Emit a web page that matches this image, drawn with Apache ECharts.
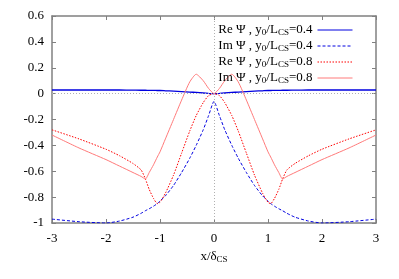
<!DOCTYPE html>
<html>
<head>
<meta charset="utf-8">
<script src="https://cdn.jsdelivr.net/npm/echarts@6/dist/echarts.min.js"></script>
<style>
html,body{margin:0;padding:0;background:#fff;}
#c{width:399px;height:279px;}
</style>
</head>
<body>
<div id="c"></div>
<script>
// x positions (x / delta_CS)
var xs = [-3, -2.5, -2, -1.75, -1.5, -1.35, -1.27, -1.2, -1.12, -1.05, -1.0, -0.9, -0.75, -0.6, -0.45, -0.33, -0.2, -0.1, 0,
          0.1, 0.2, 0.33, 0.45, 0.6, 0.75, 0.9, 1.0, 1.05, 1.12, 1.2, 1.27, 1.35, 1.5, 1.75, 2, 2.5, 3];
// Re Psi, y0/L_CS = 0.4
var reW04 = [0.028, 0.028, 0.028, 0.028, 0.027, 0.026, 0.026, 0.025, 0.025, 0.024, 0.024, 0.022, 0.019, 0.016, 0.012, 0.009, 0.005, 0.002, 0.0,
             0.002, 0.005, 0.009, 0.012, 0.016, 0.019, 0.022, 0.024, 0.024, 0.025, 0.025, 0.026, 0.026, 0.027, 0.028, 0.028, 0.028, 0.028];
// Im Psi, y0/L_CS = 0.4
var imW04 = [-0.97, -0.99, -1.0, -0.985, -0.955, -0.925, -0.905, -0.89, -0.87, -0.85, -0.83, -0.79, -0.71, -0.61, -0.5, -0.4, -0.28, -0.17, -0.06,
             -0.17, -0.28, -0.4, -0.5, -0.61, -0.71, -0.79, -0.83, -0.85, -0.87, -0.89, -0.905, -0.925, -0.955, -0.985, -1.0, -0.99, -0.97];
// Re Psi, y0/L_CS = 0.8
var reW08 = [-0.28, -0.35, -0.43, -0.48, -0.54, -0.59, -0.66, -0.74, -0.81, -0.85, -0.84, -0.77, -0.63, -0.46, -0.29, -0.17, -0.07, -0.015, 0.0,
             -0.015, -0.07, -0.17, -0.29, -0.46, -0.63, -0.77, -0.84, -0.85, -0.81, -0.74, -0.66, -0.59, -0.54, -0.48, -0.43, -0.35, -0.28];
// Im Psi, y0/L_CS = 0.8
var imW08 = [-0.32, -0.42, -0.51, -0.56, -0.61, -0.64, -0.66, -0.61, -0.55, -0.49, -0.45, -0.35, -0.2, -0.05, 0.09, 0.15, 0.1, 0.04, 0.0,
             0.04, 0.1, 0.15, 0.09, -0.05, -0.2, -0.35, -0.45, -0.49, -0.55, -0.61, -0.66, -0.64, -0.61, -0.56, -0.51, -0.42, -0.32];

var seriesNames = ['re04', 'im04', 're08', 'im08'];
var legendLabels = {
  re04: '{n|Re Ψ , y}{s|0}{n|/L}{s|CS}{n|=0.4}',
  im04: '{n|Im Ψ , y}{s|0}{n|/L}{s|CS}{n|=0.4}',
  re08: '{n|Re Ψ , y}{s|0}{n|/L}{s|CS}{n|=0.8}',
  im08: '{n|Im Ψ , y}{s|0}{n|/L}{s|CS}{n|=0.8}'
};
var xTicks = {min: -3, max: 3, interval: 1};
var yTicks = {min: -1, max: 0.6, interval: 0.2};

function pairs(ys) { return xs.map(function (x, i) { return [x, ys[i]]; }); }

var serif = 'Liberation Serif';
var frame = '#808080';
var richStyle = {
  n: {fontFamily: serif, fontSize: 13, color: '#000', lineHeight: 14, padding: [0, 0, 2, 0], verticalAlign: 'top'},
  s: {fontFamily: serif, fontSize: 9, color: '#000', lineHeight: 9, verticalAlign: 'bottom'}
};

function mkSeries(name, ys, color, type, w) {
  return {
    name: name, type: 'line', data: pairs(ys), symbol: 'none', smooth: 0.2,
    lineStyle: {color: color, width: w || 1, type: type}, itemStyle: {color: color},
    xAxisIndex: 0, yAxisIndex: 0, animation: false
  };
}

var s0 = mkSeries('re04', reW04, '#0000e0', 'solid', 1.3);
s0.markLine = {
  silent: true, symbol: ['none', 'none'], label: {show: false},
  lineStyle: {color: '#b0b0b0', width: 1, type: [1, 2]},
  data: [{xAxis: 0}, {yAxis: 0}], animation: false
};
s0.z = 1;

var chart = echarts.init(document.getElementById('c'), null, {renderer: 'canvas'});
chart.setOption({
  backgroundColor: '#fff',
  animation: false,
  grid: {left: 52, right: 23, top: 16, bottom: 56},
  legend: {
    orient: 'vertical', right: 41, top: 18, align: 'right',
    itemWidth: 35, itemHeight: 13, itemGap: 1,
    data: seriesNames,
    itemStyle: {opacity: 0},
    lineStyle: {width: 1},
    formatter: function (n) { return legendLabels[n]; },
    textStyle: {rich: richStyle}
  },
  xAxis: [{
    type: 'value', min: xTicks.min, max: xTicks.max, interval: xTicks.interval,
    axisLine: {show: true, onZero: false, lineStyle: {color: frame, width: 1.5}},
    axisTick: {show: true, inside: true, length: 4, lineStyle: {color: frame}},
    splitLine: {show: false},
    axisLabel: {fontFamily: serif, fontSize: 13, color: '#000', margin: 9},
    name: '{n|x/δ}{s|CS}', nameLocation: 'middle', nameGap: 27,
    nameTextStyle: {rich: richStyle}
  }, {
    type: 'value', position: 'top', min: xTicks.min, max: xTicks.max, interval: xTicks.interval,
    axisLine: {show: true, onZero: false, lineStyle: {color: frame, width: 1.5}},
    axisTick: {show: true, inside: true, length: 4, lineStyle: {color: frame}},
    splitLine: {show: false}, axisLabel: {show: false}
  }],
  yAxis: [{
    type: 'value', min: yTicks.min, max: yTicks.max, interval: yTicks.interval,
    axisLine: {show: true, onZero: false, lineStyle: {color: frame, width: 1.5}},
    axisTick: {show: true, inside: true, length: 4, lineStyle: {color: frame}},
    splitLine: {show: false},
    axisLabel: {fontFamily: serif, fontSize: 13, color: '#000', margin: 8,
      formatter: function (v) { return String(+v.toFixed(1)); }}
  }, {
    type: 'value', position: 'right', min: yTicks.min, max: yTicks.max, interval: yTicks.interval,
    axisLine: {show: true, onZero: false, lineStyle: {color: frame, width: 1.5}},
    axisTick: {show: true, inside: true, length: 4, lineStyle: {color: frame}},
    splitLine: {show: false}, axisLabel: {show: false}
  }],
  series: [
    s0,
    mkSeries('im04', imW04, '#0000e0', [3, 2]),
    mkSeries('re08', reW08, '#ff0000', [1.5, 1.5]),
    mkSeries('im08', imW08, '#ff7a7a', 'solid')
  ]
});
</script>
</body>
</html>
